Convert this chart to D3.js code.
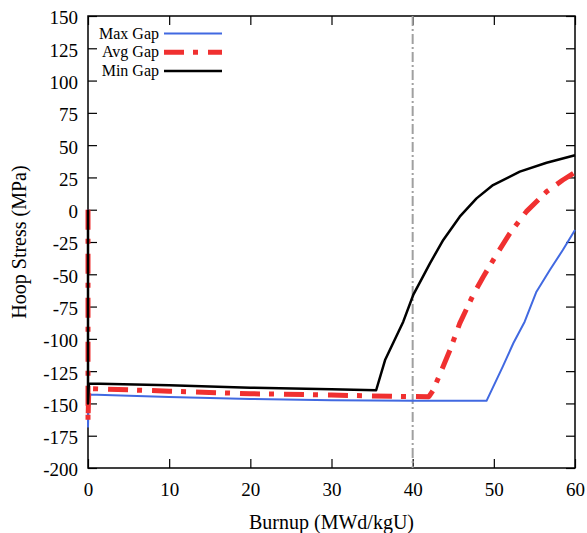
<!DOCTYPE html>
<html>
<head>
<meta charset="utf-8">
<script src="https://cdn.jsdelivr.net/npm/d3@7"></script>
<style>
  body { margin: 0; background: #fff; }
  svg text { font-family: "Liberation Serif", "Times New Roman", serif; }
</style>
</head>
<body>
<script>
// values
const xTicks = [0, 10, 20, 30, 40, 50, 60]
const yTicks = [-200, -175, -150, -125, -100, -75, -50, -25, 0, 25, 50, 75, 100, 125, 150]
const refBurnup = 40

const maxGap = [
  [0, 0], [0, -168], [0.1, -143], [10, -145], [20, -146.5], [30, -147.5], [40, -148], [49.1, -148],
  [51.1, -121.5], [52.4, -103.4], [53.8, -86.7], [55.25, -63.5], [56.9, -46.7], [58.5, -31.2], [60, -15.7]
]
const avgGap = [
  [0, 0], [0, -164], [0.1, -138.5], [10, -140.5], [20, -142.5], [30, -143.5], [37.6, -144.5], [42, -144.8],
  [42.5, -140], [43.15, -130.5], [44.6, -108.6], [45.8, -88], [47.45, -66], [48.7, -51.9], [50.3, -35],
  [51.97, -18.3], [54, -1.5], [56.5, 14], [58.5, 23], [60, 29]
]
const minGap = [
  [0, 0], [0, -150], [0.1, -134.5], [10, -136], [20, -137.8], [30, -139], [35.5, -139.8],
  [36.6, -116.4], [38.84, -86.7], [40.07, -66], [42.13, -41.5], [43.77, -23.4], [45.8, -5.4],
  [47.87, 8.8], [49.9, 19.1], [53.2, 29.5], [56.5, 36.4], [60, 42.2]
]
const series = [
  {name: "Max Gap", data: maxGap, color: "#4169e1", width: 2, dash: null},
  {name: "Avg Gap", data: avgGap, color: "#f03030", width: 5, dash: "20,9,5,10"},
  {name: "Min Gap", data: minGap, color: "#000000", width: 2.5, dash: null}
]

const width = 587, height = 533
const margin = {left: 88, right: 12, top: 16, bottom: 65}

const svg = d3.select("body").append("svg")
    .attr("width", width)
    .attr("height", height)

const x = d3.scaleLinear().domain([0, 60]).range([margin.left, width - margin.right])
const y = d3.scaleLinear().domain([-200, 150]).range([height - margin.bottom, margin.top])

const fmt = d => String(d)

// inside ticks on all four sides
svg.append("g")
    .attr("transform", `translate(0,${y(-200)})`)
    .call(d3.axisBottom(x).tickValues(xTicks).tickSize(-9).tickPadding(15).tickFormat(fmt))
    .call(g => g.select(".domain").remove())
svg.append("g")
    .attr("transform", `translate(0,${y(150)})`)
    .call(d3.axisTop(x).tickValues(xTicks).tickSize(-9).tickFormat(""))
    .call(g => g.select(".domain").remove())
svg.append("g")
    .attr("transform", `translate(${x(0)},0)`)
    .call(d3.axisLeft(y).tickValues(yTicks).tickSize(-9).tickPadding(10).tickFormat(fmt))
    .call(g => g.select(".domain").remove())
    .call(g => g.selectAll(".tick text").attr("dy", "0.42em"))
svg.append("g")
    .attr("transform", `translate(${x(60)},0)`)
    .call(d3.axisRight(y).tickValues(yTicks).tickSize(-9).tickFormat(""))
    .call(g => g.select(".domain").remove())

svg.selectAll(".tick line").attr("stroke", "#000").attr("stroke-width", 1.2)
svg.selectAll(".tick text")
    .attr("font-family", "Liberation Serif")
    .attr("font-size", 19)
    .attr("fill", "#000")

svg.append("rect")
    .attr("x", x(0))
    .attr("y", y(150))
    .attr("width", x(60) - x(0))
    .attr("height", y(-200) - y(150))
    .attr("fill", "none")
    .attr("stroke", "#000")
    .attr("stroke-width", 1.5)

// reference burnup marker
svg.append("line")
    .attr("x1", x(refBurnup)).attr("x2", x(refBurnup))
    .attr("y1", y(150)).attr("y2", y(-200))
    .attr("stroke", "#a0a0a0")
    .attr("stroke-width", 2)
    .attr("stroke-dasharray", "10,3,2,3")

const line = d3.line()
    .x(d => x(d[0]))
    .y(d => y(d[1]))

svg.append("g").selectAll("path")
    .data(series)
    .join("path")
    .attr("d", d => line(d.data))
    .attr("fill", "none")
    .attr("stroke", d => d.color)
    .attr("stroke-width", d => d.width)
    .attr("stroke-dasharray", d => d.dash)
    .attr("stroke-linejoin", "round")

// legend
const legend = svg.append("g")
    .selectAll("g")
    .data(series)
    .join("g")
    .attr("transform", (d, i) => `translate(0,${33.5 + i * 18.7})`)

legend.append("text")
    .attr("x", 159)
    .attr("y", 0)
    .attr("dy", "0.33em")
    .attr("text-anchor", "end")
    .attr("font-size", 16)
    .text(d => d.name)

legend.append("line")
    .attr("x1", 164).attr("x2", 222)
    .attr("stroke", d => d.color)
    .attr("stroke-width", d => d.width)
    .attr("stroke-dasharray", d => d.dash)

// axis titles
svg.append("text")
    .attr("x", x(30))
    .attr("y", 529)
    .attr("text-anchor", "middle")
    .attr("font-size", 20)
    .text("Burnup (MWd/kgU)")

svg.append("text")
    .attr("transform", `translate(26,${(y(150) + y(-200)) / 2}) rotate(-90)`)
    .attr("text-anchor", "middle")
    .attr("font-size", 20)
    .text("Hoop Stress (MPa)")
</script>
</body>
</html>
